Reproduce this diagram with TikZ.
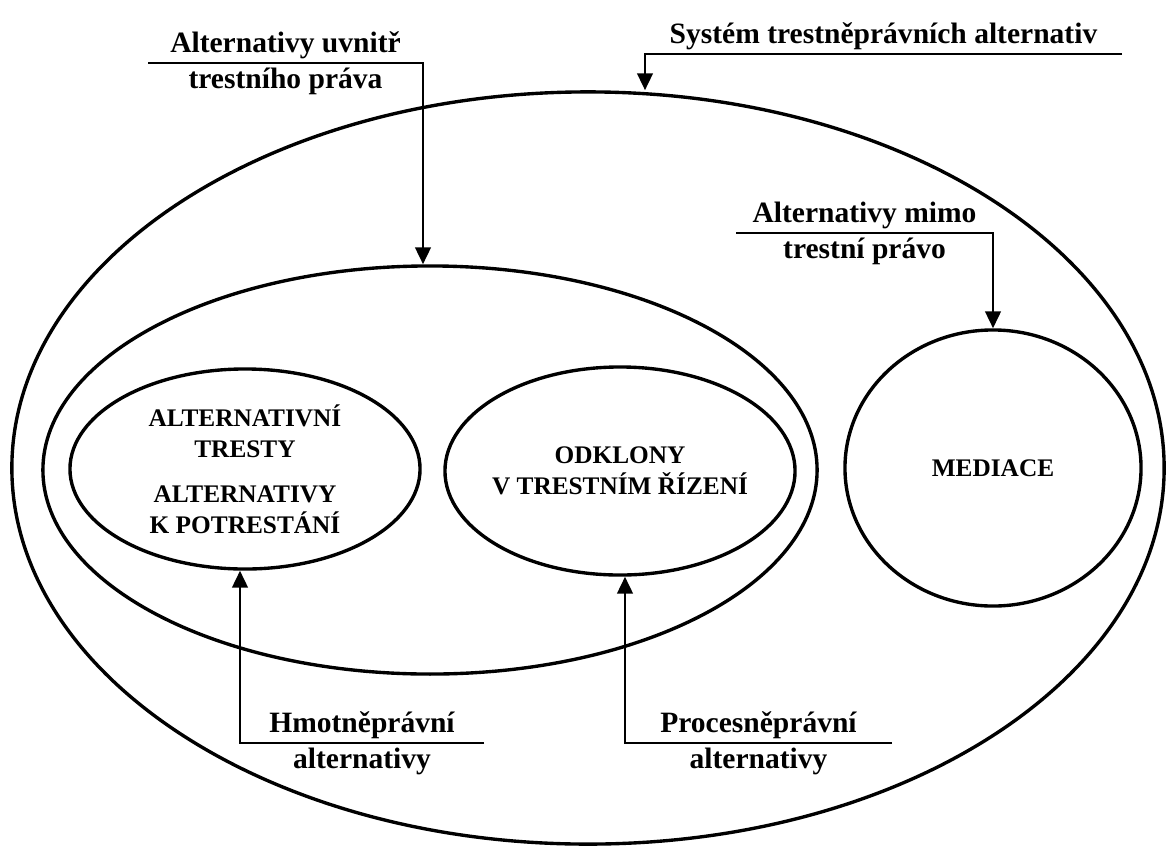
\documentclass[tikz,border=0pt]{standalone}
\usepackage{fontspec}
\setmainfont{Liberation Serif}
\usetikzlibrary{shapes.geometric,arrows.meta}
\tikzstyle{every path}=[line width=1.9pt]
\tikzstyle{oval} = [draw, ellipse, inner sep=0pt, line width=2.4pt]
\tikzstyle{inside} = [align=center, font=\fontsize{18}{22}\selectfont\bfseries]
\tikzstyle{toptext} = [anchor=base, yshift=7.8pt, font=\fontsize{21}{26}\selectfont\bfseries]
\tikzstyle{bottext} = [anchor=base, yshift=-17.8pt, font=\fontsize{21}{26}\selectfont\bfseries]
\tikzstyle{arr} = [-{Triangle[length=12pt,width=11pt]}]

\begin{document}
\begin{tikzpicture}[x=0.025cm, y=-0.025cm]
            \useasboundingbox (0,0) rectangle (1168,848);
            % ellipses
            \node[oval, minimum width=28.8cm, minimum height=18.8cm] (system) at (588,468) {};
            \node[oval, minimum width=19.35cm, minimum height=10.2cm] (uvnitr) at (430,470) {};
            \node[oval, minimum width=8.75cm, minimum height=5cm] (tresty) at (245,469) {};
            \node[oval, minimum width=8.75cm, minimum height=5.2cm] (odklony) at (620,471) {};
            \node[oval, minimum width=7.4cm, minimum height=6.9cm] (mediace) at (993,468) {};
            \node[inside] (trestyT) at (tresty) {ALTERNATIVNÍ\\TRESTY\\[10pt]ALTERNATIVY\\K POTRESTÁNÍ};
            \node[inside] (odklonyT) at (odklony) {ODKLONY\\V TRESTNÍM ŘÍZENÍ};
            \node[inside] (mediaceT) at (mediace) {MEDIACE};
            % labels and arrows
            \coordinate (sysL) at (645,54);
            \coordinate (sysR) at (1122,54);
            \draw[arr] (sysR) -- (sysL)
                node[midway, toptext] (sysA) {Systém trestněprávních alternativ}
                -- (sysL |- system.north);
            \coordinate (uvL) at (148,63);
            \coordinate (uvR) at (423,63);
            \draw[arr] (uvL) -- (uvR)
                node[midway, toptext] (uvA) {Alternativy uvnitř}
                node[midway, bottext] (uvB) {trestního práva}
                -- (uvR |- uvnitr.north);
            \coordinate (mimoL) at (736,233);
            \coordinate (mimoR) at (993,233);
            \draw[arr] (mimoL) -- (mimoR)
                node[midway, toptext] (mimoA) {Alternativy mimo}
                node[midway, bottext] (mimoB) {trestní právo}
                -- (mediace.north);
            \coordinate (hmL) at (240,743);
            \coordinate (hmR) at (484,743);
            \draw[arr] (hmR) -- (hmL)
                node[midway, toptext] (hmA) {Hmotněprávní}
                node[midway, bottext] (hmB) {alternativy}
                -- (hmL |- tresty.south);
            \coordinate (prL) at (625,743);
            \coordinate (prR) at (892,743);
            \draw[arr] (prR) -- (prL)
                node[midway, toptext] (prA) {Procesněprávní}
                node[midway, bottext] (prB) {alternativy}
                -- (prL |- odklony.south);
        \end{tikzpicture}
\end{document}
